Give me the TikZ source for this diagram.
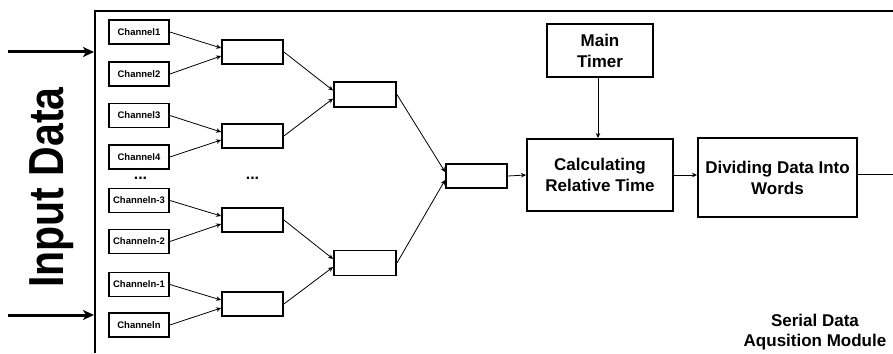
\documentclass[tikz,border=0pt]{standalone}
\usepackage{fontspec}
\setmainfont{Liberation Sans}
\usetikzlibrary{arrows.meta,calc}
\begin{document}
\begin{tikzpicture}[x=1pt,y=-1pt,
  chbox/.style={draw,line width=1.8pt,minimum width=60pt,minimum height=24pt,inner sep=0pt,font=\fontsize{9.5}{10}\selectfont\bfseries},
  mux/.style={draw,line width=1.8pt,minimum width=61pt,minimum height=24pt,inner sep=0pt},
  bigbox/.style={draw,line width=2pt,inner sep=0pt,align=center,font=\fontsize{17}{21}\selectfont\bfseries},
  conn/.style={line width=0.8pt,-{Stealth[length=5pt,width=4.5pt]}},
  plainconn/.style={line width=0.8pt},
  inarrow/.style={line width=3pt,-{Stealth[length=11pt,width=10pt,inset=3pt]}},
  frameline/.style={line width=2.5pt},
  dotstext/.style={font=\fontsize{16}{20}\selectfont\bfseries},
  lbl/.style={align=center,font=\fontsize{17}{19.5}\selectfont\bfseries}]
\fill[white] (0,0) rectangle (893,353);
\useasboundingbox (0,0) rectangle (893,353);

% frame
\draw[frameline] (95,353) -- (95,11) -- (893,11);

% input label and arrows
\node[font=\fontsize{41}{48}\selectfont\bfseries,rotate=90] (inlabel) at (52,187.5) {\scalebox{1}[1.2]{Input Data}};
\coordinate (inAs) at (8,52);
\coordinate (inAe) at (94,52);
\coordinate (inBs) at (8,315);
\coordinate (inBe) at (94,315);
\draw[inarrow] (inAs) -- (inAe);
\draw[inarrow] (inBs) -- (inBe);

% channels
\node[chbox] (c1) at (139,32) {Channel1};
\node[chbox] (c2) at (139,74) {Channel2};
\node[chbox] (c3) at (139,115.5) {Channel3};
\node[chbox] (c4) at (139,157) {Channel4};
\node[chbox] (c5) at (139,200.5) {Channeln-3};
\node[chbox] (c6) at (139,241.5) {Channeln-2};
\node[chbox] (c7) at (139,284.5) {Channeln-1};
\node[chbox] (c8) at (139,325) {Channeln};

\node[dotstext] (d1) at (140.5,178) {...};
\node[dotstext] (d2) at (252.5,178) {...};

% level 2
\node[mux] (m1) at (252.5,52) {};
\node[mux] (m2) at (252.5,136) {};
\node[mux] (m3) at (252.5,220) {};
\node[mux] (m4) at (252.5,304) {};
% level 3
\node[mux,minimum width=62pt,minimum height=25pt] (n1) at (365,94.5) {};
\node[mux,minimum width=62pt,minimum height=25pt] (n2) at (365,263) {};
% level 4
\node[mux] (p1) at (476.5,176) {};

% big boxes
\node[bigbox,minimum width=146pt,minimum height=72pt] (calc) at (600,175) {Calculating\\Relative Time};
\node[bigbox,minimum width=106pt,minimum height=53pt] (timer) at (600,50.5) {Main\\Timer};
\node[bigbox,minimum width=159pt,minimum height=79pt] (divide) at (777.5,177.5) {Dividing Data Into\\Words};

\node[lbl] (serial) at (815,332) {Serial Data\\Aqusition Module};

% connectors
\draw[conn] (c1.east) -- ([yshift=4pt]m1.west);
\draw[conn] (c2.east) -- ([yshift=-4pt]m1.west);
\draw[conn] (c3.east) -- ([yshift=4pt]m2.west);
\draw[conn] (c4.east) -- ([yshift=-4pt]m2.west);
\draw[conn] (c5.east) -- ([yshift=4pt]m3.west);
\draw[conn] (c6.east) -- ([yshift=-4pt]m3.west);
\draw[conn] (c7.east) -- ([yshift=4pt]m4.west);
\draw[conn] (c8.east) -- ([yshift=-4pt]m4.west);

\draw[conn] (m1.east) -- ([yshift=4pt]n1.west);
\draw[conn] (m2.east) -- ([yshift=-4pt]n1.west);
\draw[conn] (m3.east) -- ([yshift=4pt]n2.west);
\draw[conn] (m4.east) -- ([yshift=-4pt]n2.west);

\draw[conn] (n1.east) -- ([yshift=4pt]p1.west);
\draw[conn] (n2.east) -- ([yshift=-4pt]p1.west);

\draw[conn] (p1.east) -- (calc.west);
\draw[conn] ([xshift=-2pt]timer.south) -- ([xshift=-2pt]calc.north);
\draw[conn] (calc.east) -- (calc.east -| divide.west);

\coordinate (out) at (893,174);
\draw[plainconn] (out -| divide.east) -- (out);
\end{tikzpicture}
\end{document}
